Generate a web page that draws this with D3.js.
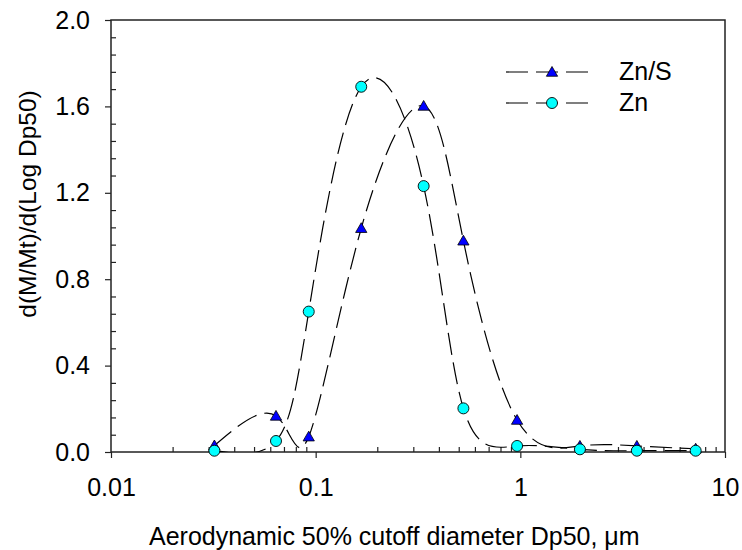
<!DOCTYPE html>
<html>
<head>
<meta charset="utf-8">
<script src="https://cdn.jsdelivr.net/npm/d3@7"></script>
<style>
  html, body { margin: 0; padding: 0; background: #fff; }
  svg { display: block; font-family: "Liberation Sans", Arial, sans-serif; }
</style>
</head>
<body>
<svg id="chart" width="742" height="550"></svg>
<script>
// ---- data ----
const sizes = [0.032, 0.064, 0.0925, 0.167, 0.337, 0.527, 0.964, 1.955, 3.71, 7.19];
const znS   = [0.03, 0.167, 0.071, 1.036, 1.602, 0.978, 0.148, 0.028, 0.028, 0.015];
const zn    = [0.006, 0.051, 0.65, 1.691, 1.231, 0.202, 0.028, 0.0125, 0.006, 0.006];
const seriesNames = ["Zn/S", "Zn"];
const xTickValues = [0.01, 0.1, 1, 10];
const xTickLabels = ["0.01", "0.1", "1", "10"];
const yTickValues = [0.0, 0.4, 0.8, 1.2, 1.6, 2.0];
const yTickLabels = ["0.0", "0.4", "0.8", "1.2", "1.6", "2.0"];
const xTitle = "Aerodynamic 50% cutoff diameter Dp50, \u03BCm";
const yTitle = "d(M/Mt)/d(Log Dp50)";

// ---- layout ----
const L = 111, R = 725, T = 20, B = 452;
const svg = d3.select("#chart");
const x = d3.scaleLog().domain([0.01, 10]).range([L, R]);
const y = d3.scaleLinear().domain([0, 2]).range([B, T]);
const axisColor = "#222";
const fontSize = 25;

// clip
svg.append("defs").append("clipPath").attr("id", "plotclip")
  .append("rect").attr("x", L).attr("y", T).attr("width", R - L).attr("height", B - T);

// minor ticks x (inside)
const xMinor = [];
[0.01, 0.1, 1].forEach(d => { for (let k = 2; k <= 9; k++) xMinor.push(d * k); });
const gxm = svg.append("g").attr("transform", `translate(0,${B})`)
  .call(d3.axisBottom(x).tickValues(xMinor).tickSize(-5).tickFormat(""));
gxm.select(".domain").remove();
gxm.selectAll("line").attr("stroke", axisColor).attr("stroke-width", 1.2);

// major ticks x
const gx = svg.append("g").attr("transform", `translate(0,${B})`)
  .call(d3.axisBottom(x).tickValues(xTickValues).tickSize(6).tickPadding(20)
    .tickFormat((d, i) => xTickLabels[i]));
gx.select(".domain").remove();
gx.selectAll("line").attr("stroke", axisColor).attr("stroke-width", 1.2);
gx.selectAll("text").attr("font-size", fontSize).attr("fill", "#000")
  .attr("font-family", "'Liberation Sans', Arial, sans-serif");

// minor ticks y (inside)
const yMinor = d3.range(0, 2.0001, 0.08).filter(v => Math.abs(v / 0.4 - Math.round(v / 0.4)) > 1e-6);
const gym = svg.append("g").attr("transform", `translate(${L},0)`)
  .call(d3.axisLeft(y).tickValues(yMinor).tickSize(-5).tickFormat(""));
gym.select(".domain").remove();
gym.selectAll("line").attr("stroke", axisColor).attr("stroke-width", 1.2);

// major ticks y
const gy = svg.append("g").attr("transform", `translate(${L},0)`)
  .call(d3.axisLeft(y).tickValues(yTickValues).tickSize(6).tickPadding(15)
    .tickFormat((d, i) => yTickLabels[i]));
gy.select(".domain").remove();
gy.selectAll("line").attr("stroke", axisColor).attr("stroke-width", 1.2);
gy.selectAll("text").attr("font-size", fontSize).attr("fill", "#000")
  .attr("font-family", "'Liberation Sans', Arial, sans-serif");

// frame
svg.append("rect").attr("x", L).attr("y", T).attr("width", R - L).attr("height", B - T)
  .attr("fill", "none").attr("stroke", axisColor).attr("stroke-width", 1.5);

// curves
const line = d3.line().x(d => x(d[0])).y(d => y(d[1])).curve(d3.curveNatural);
const series = [
  { name: seriesNames[0], values: znS, shape: "tri", fill: "#0000ff" },
  { name: seriesNames[1], values: zn, shape: "circ", fill: "#00ffff" }
];
const dash = "22,8";
const plotG = svg.append("g").attr("clip-path", "url(#plotclip)");
series.forEach(s => {
  const pts = sizes.map((v, i) => [v, s.values[i]]);
  plotG.append("path").attr("d", line(pts)).attr("fill", "none")
    .attr("stroke", "#000").attr("stroke-width", 1.2).attr("stroke-dasharray", dash);
});

const triPath = d3.symbol().type(d3.symbolTriangle).size(55);
function drawMarker(g, s, cx, cy) {
  if (s.shape === "tri") {
    g.append("path").attr("d", triPath()).attr("transform", `translate(${cx},${cy + 1})`)
      .attr("fill", s.fill).attr("stroke", "#000").attr("stroke-width", 0.8);
  } else {
    g.append("circle").attr("cx", cx).attr("cy", cy).attr("r", 5.5)
      .attr("fill", s.fill).attr("stroke", "#000").attr("stroke-width", 0.9);
  }
}
series.forEach(s => {
  const g = svg.append("g");
  sizes.forEach((v, i) => drawMarker(g, s, x(v), y(s.values[i])));
});

// legend
const legRows = [72, 103];
series.forEach((s, i) => {
  const ly = legRows[i];
  const g = svg.append("g");
  g.append("line").attr("x1", 506).attr("x2", 590).attr("y1", ly).attr("y2", ly)
    .attr("stroke", "#000").attr("stroke-width", 1.2).attr("stroke-dasharray", dash);
  drawMarker(g, s, 552, ly);
  g.append("text").attr("x", 619).attr("y", ly + 8).attr("font-size", fontSize)
    .attr("fill", "#000").text(s.name);
});

// axis titles
svg.append("text").attr("x", 149).attr("y", 545).attr("font-size", fontSize)
  .attr("fill", "#000").text(xTitle);
svg.append("text").attr("transform", "translate(36,204) rotate(-90)")
  .attr("text-anchor", "middle").attr("font-size", 24.5).attr("fill", "#000").text(yTitle);
</script>
</body>
</html>
